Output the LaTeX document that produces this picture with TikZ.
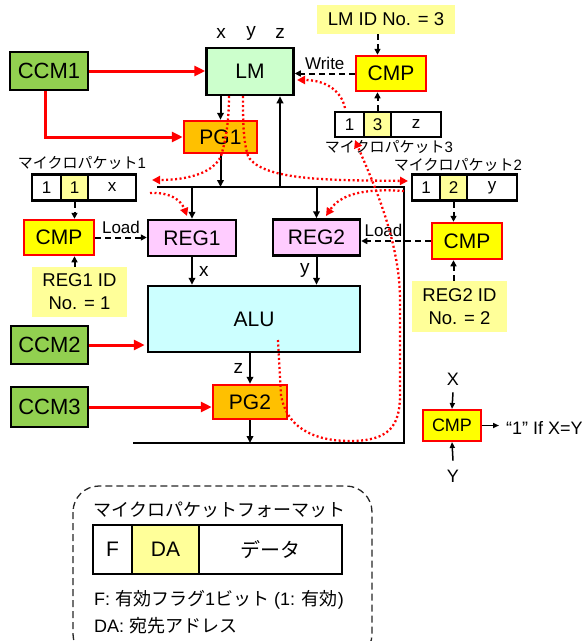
\documentclass[tikz,border=0pt]{standalone}
\usepackage{fontspec}
\setmainfont{Liberation Sans}
\newfontfamily\jp{Noto Sans CJK JP}
\usetikzlibrary{arrows.meta,calc}

\definecolor{ccmgreen}{RGB}{146,208,80}
\definecolor{lmgreen}{RGB}{204,255,204}
\definecolor{pgorange}{RGB}{255,192,0}
\definecolor{cmpyellow}{RGB}{255,255,0}
\definecolor{regpink}{RGB}{255,204,255}
\definecolor{alucyan}{RGB}{204,255,255}
\definecolor{paleyellow}{RGB}{255,255,153}
\definecolor{lred}{RGB}{255,0,0}

\begin{document}
\begin{tikzpicture}[x=1pt,y=-1pt,
  sz/.style 2 args={minimum width=#1, minimum height=#2},
  box/.style={draw, line width=2.5pt, inner sep=0pt, anchor=center},
  ccm/.style={box, fill=ccmgreen, font=\fontsize{22}{26}\selectfont},
  lmbox/.style={box, fill=lmgreen, font=\fontsize{21}{25}\selectfont},
  pgbox/.style={box, draw=lred, fill=pgorange, font=\fontsize{21}{25}\selectfont},
  cmpbox/.style={box, draw=lred, fill=cmpyellow, font=\fontsize{21}{25}\selectfont},
  regbox/.style={box, fill=regpink, font=\fontsize{21}{25}\selectfont},
  alubox/.style={box, fill=alucyan, font=\fontsize{21}{25}\selectfont},
  idbox/.style={fill=paleyellow, inner sep=0pt, anchor=center, align=center, font=\fontsize{18.5}{23}\selectfont},
  cell/.style={box, fill=white, font=\fontsize{17}{20}\selectfont},
  pklbl/.style={inner sep=0pt, font=\fontsize{15}{18}\selectfont},
  lbl/.style={inner sep=0pt, font=\fontsize{19}{22}\selectfont},
  smlbl/.style={font=\fontsize{17}{20}\selectfont},
  legfont/.style={inner sep=0pt, font=\fontsize{18}{21}\selectfont},
  arr/.style={line width=2pt, -{Triangle[length=7pt,width=6.5pt]}},
  legarr/.style={line width=1.5pt, -{Triangle[length=6pt,width=5pt]}},
  bus/.style={line width=2.5pt},
  redarr/.style={draw=lred, line width=3pt, -{Triangle[length=11pt,width=10pt]}},
  dasharr/.style={line width=2pt, dash pattern=on 6pt off 4pt, -{Triangle[length=6pt,width=6pt]}},
  reddot/.style={draw=lred, line width=2.3pt, dash pattern=on 2pt off 2.5pt, -{Triangle[length=8pt,width=8pt]}, lred},
]
\useasboundingbox (0,0) rectangle (586,641);

% main blocks
\node[ccm, sz={78pt}{38pt}] (ccm1) at (49,71) {CCM1};
\node[ccm, sz={77pt}{38pt}] (ccm2) at (49.5,345) {CCM2};
\node[ccm, sz={77pt}{40pt}] (ccm3) at (49.5,407) {CCM3};
\node[lmbox, sz={87pt}{47pt}] (lm) at (250,71.5) {LM};
\node[pgbox, sz={73pt}{32pt}] (pg1) at (220.5,137) {PG1};
\node[regbox, sz={88pt}{36pt}] (reg1) at (192,238) {REG1};
\node[regbox, sz={87pt}{36pt}] (reg2) at (316.5,237.5) {REG2};
\node[alubox, sz={212pt}{66pt}] (alu) at (254,319) {ALU};
\node[pgbox, sz={74pt}{34pt}] (pg2) at (250,402) {PG2};

% x y z labels
\node[lbl] (lx) at (221,33) {x};
\node[lbl] (ly) at (251,33) {y};
\node[lbl] (lz) at (280,33) {z};

% comparators
\node[cmpbox, sz={70pt}{35pt}] (cmpL) at (59,237.5) {CMP};
\node[cmpbox, sz={70pt}{36pt}] (cmpR) at (467,241) {CMP};
\node[cmpbox, sz={70pt}{35pt}] (cmpT) at (391,73.5) {CMP};

% ID boxes
\node[idbox, sz={138pt}{29pt}] (lmid) at (386,19.5) {LM ID No. = 3};
\node[idbox, sz={95pt}{50pt}] (reg1id) at (79.5,292) {REG1 ID\\No. = 1};
\node[idbox, sz={95pt}{51pt}] (reg2id) at (459.5,306.5) {REG2 ID\\No. = 2};

% micro packets
\node[cell, sz={29pt}{26pt}] (p1a) at (46.5,187.5) {1};
\node[cell, fill=paleyellow, sz={27pt}{26pt}] (p1b) at (74.5,187.5) {1};
\node[cell, sz={48pt}{26pt}] (p1c) at (112,187.5) {x};
\node[pklbl] (p1l) at (82,163) {{\jp マイクロパケット}1};

\node[cell, sz={28pt}{26pt}] (p2a) at (426,187.5) {1};
\node[cell, fill=paleyellow, sz={27pt}{26pt}] (p2b) at (453.5,187.5) {2};
\node[cell, sz={50pt}{26pt}] (p2c) at (492,187.5) {y};
\node[pklbl] (p2l) at (458,165) {{\jp マイクロパケット}2};

\node[cell, sz={29pt}{25pt}] (p3a) at (349.5,124.5) {1};
\node[cell, fill=paleyellow, sz={27pt}{25pt}] (p3b) at (377.5,124.5) {3};
\node[cell, sz={50pt}{25pt}] (p3c) at (416,124.5) {z};
\node[pklbl] (p3l) at (389,147) {{\jp マイクロパケット}3};

% bus lines
\coordinate (busL) at (157,187);
\coordinate (busR) at (404,187);
\coordinate (botR) at (404,443);
\coordinate (botL) at (133,443);
\coordinate (busUp) at (280,187);
\draw[bus] (busL) -- (busR) -- (botR) -- (botL);
\draw[arr] (busUp) -- (busUp |- lm.south);

% black arrows
\draw[arr] (pg1.north |- lm.south) -- (pg1.north);
\draw[arr] (pg1.south) -- (pg1.south |- busL);
\draw[arr] (reg1.north |- busL) -- (reg1.north);
\draw[arr] (reg2.north |- busL) -- (reg2.north);
\draw[arr] (reg1.south) -- node[lbl, right=6pt] (lblx) {x} (reg1.south |- alu.north);
\draw[arr] (reg2.south) -- node[lbl, left=6pt] (lbly) {y} (reg2.south |- alu.north);
\draw[arr] (pg2.north |- alu.south) -- node[lbl, left=6pt] (lblz) {z} (pg2.north);
\draw[arr] (pg2.south) -- (pg2.south |- botL);

% red control arrows
\draw[redarr] (ccm1.east) -- (ccm1.east -| lm.west);
\draw[redarr] ([xshift=-4pt]ccm1.south) |- (pg1.west);
\draw[redarr] (ccm2.east) -- ([xshift=-2pt]ccm2.east -| alu.west);
\draw[redarr] (ccm3.east) -- (ccm3.east -| pg2.west);

% dashed arrows
\draw[dasharr] (p1b.south) -- (p1b.south |- cmpL.north);
\draw[dasharr] (p1b.south |- reg1id.north) -- (p1b.south |- cmpL.south);
\draw[dasharr] (cmpL.east) -- node[smlbl, above] (load1) {Load} (cmpL.east -| reg1.west);
\draw[dasharr] (p2b.south) -- (p2b.south |- cmpR.north);
\draw[dasharr] (p2b.south |- reg2id.north) -- (p2b.south |- cmpR.south);
\draw[dasharr] (cmpR.west) -- node[smlbl, above, pos=0.68] (load2) {Load} (cmpR.west -| reg2.east);
\draw[dasharr] (p3b.north |- lmid.south) -- (p3b.north |- cmpT.north);
\draw[dasharr] (p3b.north) -- (p3b.north |- cmpT.south);
\draw[dasharr] (cmpT.west) -- node[smlbl, above] (wlab) {Write} (cmpT.west -| lm.east);

% red dotted flows
\draw[reddot] (229,96) .. controls (229,120) and (226,140) .. (221,156)
   .. controls (214,172) and (190,180) .. (152,180);
\draw[reddot] (243,96) .. controls (243,120) and (243,140) .. (248,156)
   .. controls (262,182) and (340,180) .. (408,181);
\draw[reddot] (150,193) .. controls (170,192) and (181,200) .. (187,216);
\draw[reddot] (404,191) .. controls (362,188) and (340,195) .. (326,216);
\draw[reddot] (345,108) .. controls (341,90) and (325,80) .. (297,80);
\draw[reddot] (278,340) -- (281,395) .. controls (286,425) and (310,441) .. (350,441)
   .. controls (390,441) and (400,425) .. (400,395) -- (400,300)
   .. controls (400,240) and (372,180) .. (355,140);

% legend comparator
\node[cmpbox, line width=2pt, sz={58pt}{31pt}, font=\fontsize{18}{21}\selectfont] (cmpLeg) at (452,425.5) {CMP};
\node[legfont] (legX) at (453,379) {X};
\node[legfont] (legY) at (453,476) {Y};
\node[legfont, anchor=west] (legRes) at (506,428) {“1” If X=Y};
\draw[legarr] ([yshift=-7pt]legX.south) -- (cmpLeg.north);
\draw[legarr] ([yshift=9pt]legY.north) -- (cmpLeg.south);
\draw[legarr] (cmpLeg.east) -- ([xshift=-7pt]legRes.west |- cmpLeg.east);

% format box
\begin{scope}
\clip (0,0) rectangle (586,641);
\draw[line width=1.3pt, dash pattern=on 7pt off 4pt, rounded corners=26pt, draw=black!85] (73,486) rectangle (372,660);
\end{scope}
\node[inner sep=0pt, font=\fontsize{18}{21}\selectfont\jp] (ftitle) at (219.5,510) {マイクロパケットフォーマット};
\node[cell, sz={39pt}{49pt}, font=\fontsize{21}{25}\selectfont] (fF) at (112.5,549.5) {F};
\node[cell, fill=paleyellow, sz={67pt}{49pt}, font=\fontsize{21}{25}\selectfont] (fDA) at (165.5,549.5) {DA};
\node[cell, sz={143pt}{49pt}, font=\fontsize{20}{24}\selectfont\jp] (fData) at (270.5,549.5) {データ};
\node[inner sep=0pt, anchor=west, font=\fontsize{18}{21}\selectfont] (fl1) at (94,600) {F: {\jp 有効フラグ}1{\jp ビット} (1: {\jp 有効})};
\node[inner sep=0pt, anchor=west, font=\fontsize{18}{21}\selectfont] (fl2) at (94,626) {DA: {\jp 宛先アドレス}};
\end{tikzpicture}
\end{document}
